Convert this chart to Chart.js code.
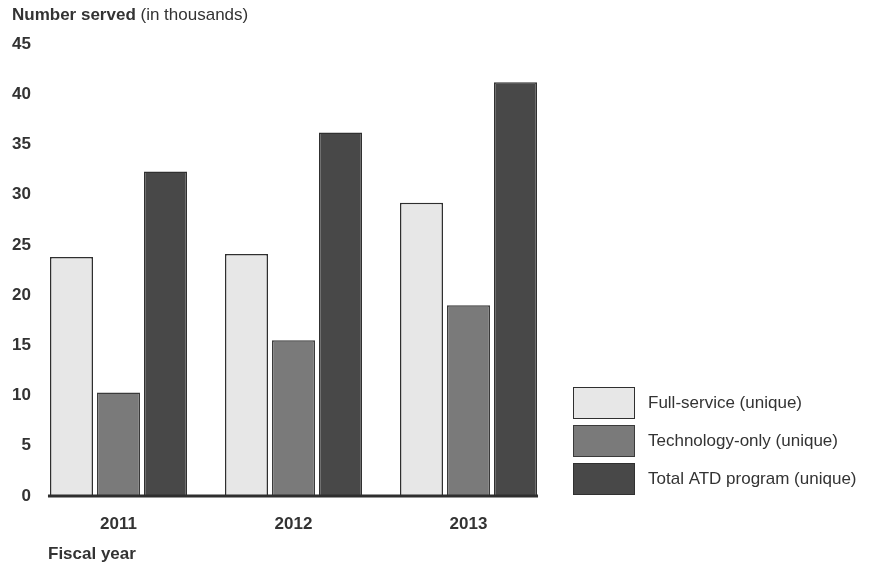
<!DOCTYPE html>
<html>
<head>
<meta charset="utf-8">
<script src="https://cdn.jsdelivr.net/npm/chart.js@4/dist/chart.umd.min.js"></script>
<style>
  html, body { margin: 0; padding: 0; background: #fff; }
  #wrap { width: 869px; height: 565px; }
</style>
</head>
<body>
<div id="wrap"><canvas id="chart" width="869" height="565"></canvas></div>
<script>
const years = ['2011', '2012', '2013'];
const fullService = [23.8, 24.1, 29.2];
const techOnly = [10.3, 15.5, 19.0];
const totalAtd = [32.3, 36.2, 41.2];
const seriesNames = ['Full-service (unique)', 'Technology-only (unique)', 'Total ATD program (unique)'];
const yTicks = [0, 5, 10, 15, 20, 25, 30, 35, 40, 45];

const fontName = '"Liberation Sans", Arial, sans-serif';
const textColor = '#333';

// title, x title, baseline and legend
const extras = {
    id: 'extras',
    afterDatasetsDraw(chart) {
        const c = chart.ctx;
        const y0 = chart.scales.y.getPixelForValue(0);
        const first = chart.getDatasetMeta(0).data[0];
        const last = chart.getDatasetMeta(2).data[years.length - 1];
        c.save();
        c.strokeStyle = '#2e2e2e';
        c.lineWidth = 3;
        c.beginPath();
        c.moveTo(first.x - first.width / 2 - 2, y0);
        c.lineTo(last.x + last.width / 2 + 1, y0);
        c.stroke();
        c.restore();
    },
    afterDraw(chart) {
        const c = chart.ctx;
        c.save();
        c.fillStyle = textColor;
        c.textBaseline = 'middle';
        c.textAlign = 'left';
        c.font = 'bold 17px ' + fontName;
        c.fillText('Number served', 12, 15);
        const w = c.measureText('Number served').width;
        c.font = '17px ' + fontName;
        c.fillText(' (in thousands)', 12 + w, 15);
        c.font = 'bold 17px ' + fontName;
        c.fillText('Fiscal year', 48, 554);

        // legend
        c.font = '17px ' + fontName;
        chart.data.datasets.forEach((ds, i) => {
            const top = 387 + i * 38;
            c.fillStyle = ds.backgroundColor;
            c.fillRect(573, top, 61, 31);
            c.strokeStyle = ds.borderColor;
            c.lineWidth = 1;
            c.strokeRect(573.5, top + 0.5, 61, 31);
            c.fillStyle = textColor;
            c.fillText(ds.label, 648, top + 16);
        });
        c.restore();
    }
};

new Chart(document.getElementById('chart'), {
    type: 'bar',
    data: {
        labels: years,
        datasets: [
            { label: seriesNames[0], data: fullService, backgroundColor: '#e7e7e7', borderColor: '#2f2f2f', borderWidth: 1.5 },
            { label: seriesNames[1], data: techOnly, backgroundColor: '#7a7a7a', borderColor: '#3a3a3a', borderWidth: 1.5 },
            { label: seriesNames[2], data: totalAtd, backgroundColor: '#484848', borderColor: '#303030', borderWidth: 1.5 }
        ]
    },
    plugins: [extras],
    options: {
        responsive: false,
        animation: false,
        events: [],
        categoryPercentage: 0.806,
        barPercentage: 0.915,
        layout: { padding: { left: 10, right: 313, top: 44, bottom: 31 } },
        plugins: {
            legend: { display: false },
            tooltip: { enabled: false }
        },
        scales: {
            x: {
                grid: { display: false, drawTicks: false },
                border: { display: false },
                ticks: { color: textColor, font: { family: fontName, size: 17, weight: 'bold' }, padding: 18 },
                afterFit: s => { s.height = 38; }
            },
            y: {
                min: 0,
                max: 45,
                afterBuildTicks: s => { s.ticks = yTicks.map(v => ({ value: v })); },
                grid: { display: false, drawTicks: false },
                border: { display: false },
                ticks: { color: textColor, font: { family: fontName, size: 17, weight: 'bold' }, padding: 0 },
                afterFit: s => { s.width = 21; }
            }
        }
    }
});
</script>
</body>
</html>
